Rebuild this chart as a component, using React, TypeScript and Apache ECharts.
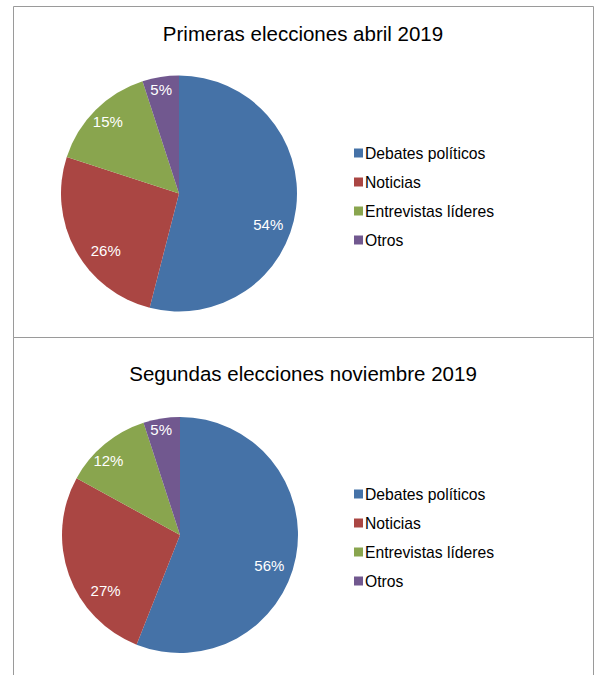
import React, { useEffect, useRef } from "react";
import * as echarts from "echarts";

const categories = ["Debates políticos", "Noticias", "Entrevistas líderes", "Otros"];
const colors = ["#4572A7", "#AA4643", "#89A54E", "#71588F"];
const titles = ["Primeras elecciones abril 2019", "Segundas elecciones noviembre 2019"];
const valuesApril = [54, 26, 15, 5];
const valuesNovember = [56, 27, 12, 5];

const FONT = "Liberation Sans, Arial, sans-serif";

// small label nudges (Excel "best fit" placement), per chart and slice
const LABEL_NUDGE = [
  [[-5, 19], [10, 11], [-4, -5], [-3, -10]],
  [[-4, 13], [15, 23], [-11, -1], [-4, -12]],
];

export default function App() {
  const ref = useRef<HTMLDivElement>(null);
  useEffect(() => {
    if (!ref.current) return;
    const chart = echarts.init(ref.current, null, { renderer: "svg" });
    const sets = [valuesApril, valuesNovember];
    const centers = [
      [179, 193.5],
      [180, 535],
    ];
    const titleTops = [23, 363];
    const legendTops = [145, 486];
    const series: any[] = [];
    sets.forEach((vals, i) => {
      const data = categories.map((c, k) => ({ name: c, value: vals[k], itemStyle: { color: colors[k] } }));
      series.push({
        type: "pie",
        center: centers[i],
        radius: [0, 118],
        startAngle: 90,
        clockwise: true,
        data,
        label: { show: false },
        labelLine: { show: false },
        itemStyle: { borderWidth: 0 },
        emphasis: { disabled: true },
        silent: true,
      });
      series.push({
        type: "pie",
        center: centers[i],
        radius: [88, 96],
        startAngle: 90,
        clockwise: true,
        data: categories.map((c, k) => ({
          name: c,
          value: vals[k],
          label: { offset: LABEL_NUDGE[i][k] },
        })),
        itemStyle: { color: "rgba(0,0,0,0)", borderWidth: 0 },
        label: {
          show: true,
          position: "inside",
          formatter: "{c}%",
          color: "#ffffff",
          fontSize: 15,
          fontFamily: FONT,
        },
        labelLine: { show: false },
        emphasis: { disabled: true },
        silent: true,
        legendHoverLink: false,
      });
    });
    chart.setOption({
      animation: false,
      color: colors,
      title: titles.map((t, i) => ({
        text: t,
        left: 303,
        textAlign: "center",
        top: titleTops[i],
        padding: 0,
        textStyle: { fontSize: 20.5, fontWeight: "normal", color: "#000", fontFamily: FONT },
      })),
      legend: legendTops.map((top, i) => ({
        data: categories,
        orient: "vertical",
        left: 354,
        top,
        padding: 0,
        itemWidth: 9,
        itemHeight: 9,
        itemGap: 13,
        icon: "rect",
        selectedMode: false,
        textStyle: { fontSize: 15.7, color: "#000", fontFamily: FONT, padding: [0, 0, 0, -3] },
      })),
      graphic: [
        {
          type: "rect",
          shape: { x: 13.5, y: 6.5, width: 580, height: 331 },
          style: { fill: "none", stroke: "#9a9a9a", lineWidth: 1 },
          silent: true,
        },
        {
          type: "polyline",
          shape: { points: [[13.5, 700], [13.5, 337.5], [593.5, 337.5], [593.5, 700]] },
          style: { fill: "none", stroke: "#9a9a9a", lineWidth: 1 },
          silent: true,
        },
      ],
      series,
    });
    return () => chart.dispose();
  }, []);
  return (
    <div style={{ position: "absolute", left: 0, top: 0, width: 594, height: 675, background: "#fff" }}>
      <div ref={ref} style={{ width: 594, height: 675 }} />
    </div>
  );
}
